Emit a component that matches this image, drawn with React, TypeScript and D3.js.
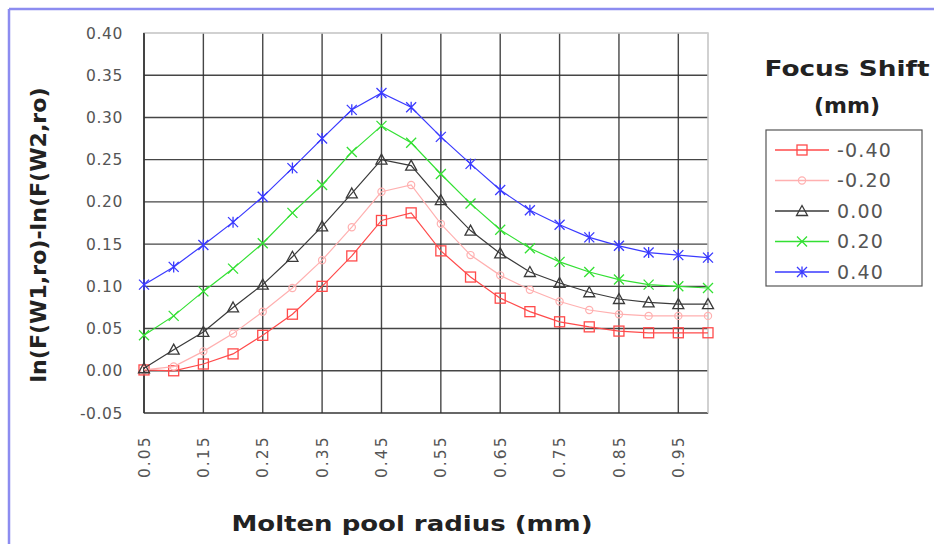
import React from "react";
import * as d3 from "d3";

const radius = [0.05, 0.1, 0.15, 0.2, 0.25, 0.3, 0.35, 0.4, 0.45, 0.5, 0.55, 0.6, 0.65, 0.7, 0.75, 0.8, 0.85, 0.9, 0.95, 1.0];
const shiftM40 = [0.001, 0.0, 0.008, 0.02, 0.042, 0.067, 0.1, 0.136, 0.178, 0.187, 0.142, 0.111, 0.086, 0.07, 0.058, 0.052, 0.047, 0.045, 0.045, 0.045];
const shiftM20 = [0.001, 0.005, 0.023, 0.044, 0.07, 0.098, 0.131, 0.17, 0.212, 0.22, 0.174, 0.137, 0.113, 0.096, 0.082, 0.072, 0.067, 0.065, 0.065, 0.065];
const shift000 = [0.003, 0.025, 0.046, 0.075, 0.102, 0.135, 0.171, 0.21, 0.25, 0.243, 0.202, 0.166, 0.139, 0.117, 0.104, 0.093, 0.085, 0.081, 0.079, 0.079];
const shiftP20 = [0.042, 0.065, 0.094, 0.121, 0.151, 0.187, 0.22, 0.259, 0.29, 0.27, 0.233, 0.198, 0.167, 0.145, 0.129, 0.117, 0.108, 0.102, 0.1, 0.098];
const shiftP40 = [0.102, 0.123, 0.149, 0.176, 0.206, 0.24, 0.275, 0.309, 0.329, 0.312, 0.277, 0.245, 0.214, 0.19, 0.173, 0.158, 0.148, 0.14, 0.137, 0.134];

const seriesNames = ["-0.40", "-0.20", "0.00", "0.20", "0.40"];
const yTicks = [0.4, 0.35, 0.3, 0.25, 0.2, 0.15, 0.1, 0.05, 0.0, -0.05];
const xTicks = [0.05, 0.15, 0.25, 0.35, 0.45, 0.55, 0.65, 0.75, 0.85, 0.95];

const seriesValues = [shiftM40, shiftM20, shift000, shiftP20, shiftP40];
const colors = ["#ff4a4a", "#ffb0b0", "#3a3a3a", "#33e033", "#3a3aff"];
const markerKinds = ["square", "circle", "triangle", "x", "star"];

function Marker({ kind, x, y, color }: { kind: string; x: number; y: number; color: string }) {
  const s = 5;
  if (kind === "square")
    return <rect x={x - s} y={y - s} width={2 * s} height={2 * s} fill="none" stroke={color} strokeWidth={1.3} />;
  if (kind === "circle") return <circle cx={x} cy={y} r={3.6} fill="none" stroke={color} strokeWidth={1.2} />;
  if (kind === "triangle")
    return (
      <path
        d={`M${x},${y - 5.5}L${x + 5.5},${y + 4.5}L${x - 5.5},${y + 4.5}Z`}
        fill="none"
        stroke={color}
        strokeWidth={1.3}
      />
    );
  if (kind === "x")
    return <path d={`M${x - 5},${y - 5}L${x + 5},${y + 5}M${x - 5},${y + 5}L${x + 5},${y - 5}`} stroke={color} strokeWidth={1.3} />;
  return (
    <path
      d={`M${x - 5},${y - 5}L${x + 5},${y + 5}M${x - 5},${y + 5}L${x + 5},${y - 5}M${x},${y - 5.5}L${x},${y + 5.5}`}
      stroke={color}
      strokeWidth={1.3}
    />
  );
}

export default function App() {
  const W = 934;
  const H = 544;
  const left = 144;
  const right = 708;
  const top = 33;
  const bottom = 413;
  const x = d3.scaleLinear().domain([0.05, 1.0]).range([left, right]);
  const y = d3.scaleLinear().domain([-0.05, 0.4]).range([bottom, top]);
  const line = d3
    .line<number>()
    .x((_, i) => x(radius[i]))
    .y((d) => y(d));

  const font = "'DejaVu Sans', Verdana, sans-serif";

  return (
    <svg
      width={W}
      height={H}
      viewBox={`0 0 ${W} ${H}`}
      style={{ position: "absolute", left: 0, top: 0, background: "#fff" }}
    >
      <rect x={0} y={0} width={W} height={H} fill="#fff" />
      {/* outer blue frame */}
      <line x1={9} y1={9} x2={W} y2={9} stroke="#8c8cf0" strokeWidth={2.5} />
      <line x1={9} y1={9} x2={9} y2={H} stroke="#8c8cf0" strokeWidth={2.5} />

      {/* plot border */}
      <rect x={left} y={top} width={right - left} height={bottom - top} fill="#fff" stroke="#c8c8c8" strokeWidth={1.5} />

      {/* horizontal gridlines */}
      {yTicks.map((t) => (
        <line key={"h" + t} x1={left} x2={right} y1={y(t)} y2={y(t)} stroke="#333" strokeWidth={1.4} opacity={t === 0.4 ? 0 : 0.9} />
      ))}
      {/* vertical gridlines */}
      {xTicks.map((t) => (
        <line key={"v" + t} x1={x(t)} x2={x(t)} y1={top} y2={bottom} stroke="#333" strokeWidth={1.4} opacity={0.9} />
      ))}
      <line x1={left} x2={right} y1={top} y2={top} stroke="#cfcfcf" strokeWidth={1.5} />
      <line x1={right} x2={right} y1={top} y2={bottom} stroke="#cfcfcf" strokeWidth={1.5} />
      <line x1={left} x2={left} y1={top} y2={bottom} stroke="#333" strokeWidth={1.4} />

      {/* y tick labels */}
      {yTicks.map((t) => (
        <text
          key={"yl" + t}
          x={123}
          y={y(t)}
          dy="0.36em"
          textAnchor="end"
          fontFamily={font}
          fontSize={15.5}
          letterSpacing={0.6}
          fill="#555"
        >
          {t.toFixed(2)}
        </text>
      ))}
      {/* x tick labels */}
      {xTicks.map((t) => (
        <text
          key={"xl" + t}
          transform={`translate(${x(t)},${478}) rotate(-90)`}
          dy="0.36em"
          textAnchor="start"
          fontFamily={font}
          fontSize={15.5}
          letterSpacing={2}
          fill="#555"
        >
          {t.toFixed(2)}
        </text>
      ))}

      {/* series */}
      {seriesValues.map((vals, si) => (
        <g key={"s" + si}>
          <path d={line(vals) || ""} fill="none" stroke={colors[si]} strokeWidth={1.2} />
          {vals.map((v, i) => (
            <Marker key={i} kind={markerKinds[si]} x={x(radius[i])} y={y(v)} color={colors[si]} />
          ))}
        </g>
      ))}

      {/* axis titles */}
      <text
        x={412}
        y={523}
        dy="0.36em"
        textAnchor="middle"
        fontFamily={font}
        fontWeight="bold"
        fontSize={22}
        fill="#222"
        textLength={361}
        lengthAdjust="spacingAndGlyphs"
      >
        Molten pool radius (mm)
      </text>
      <text
        transform={`translate(38,235) rotate(-90)`}
        dy="0.36em"
        textAnchor="middle"
        fontFamily={font}
        fontSize={21}
        fill="#222"
        textLength={295}
        lengthAdjust="spacingAndGlyphs"
        style={{ fontWeight: 600 }}
      >
        ln(F(W1,ro)-ln(F(W2,ro)
      </text>

      {/* legend */}
      <text x={847} y={68} dy="0.36em" textAnchor="middle" fontFamily={font} fontWeight="bold" fontSize={22} fill="#222" textLength={165} lengthAdjust="spacingAndGlyphs">
        Focus Shift
      </text>
      <text x={847} y={105} dy="0.36em" textAnchor="middle" fontFamily={font} fontWeight="bold" fontSize={22} fill="#222">
        (mm)
      </text>
      <rect x={766} y={130} width={156} height={156} fill="#fff" stroke="#555" strokeWidth={1.2} />
      {seriesNames.map((name, si) => {
        const ly = 150 + si * 30.5;
        return (
          <g key={"lg" + si}>
            <line x1={775} x2={829} y1={ly} y2={ly} stroke={colors[si]} strokeWidth={1.3} />
            <Marker kind={markerKinds[si]} x={802} y={ly} color={colors[si]} />
            <text x={837} y={ly} dy="0.36em" fontFamily={font} fontSize={19} letterSpacing={1.2} fill="#555">
              {name}
            </text>
          </g>
        );
      })}
    </svg>
  );
}
